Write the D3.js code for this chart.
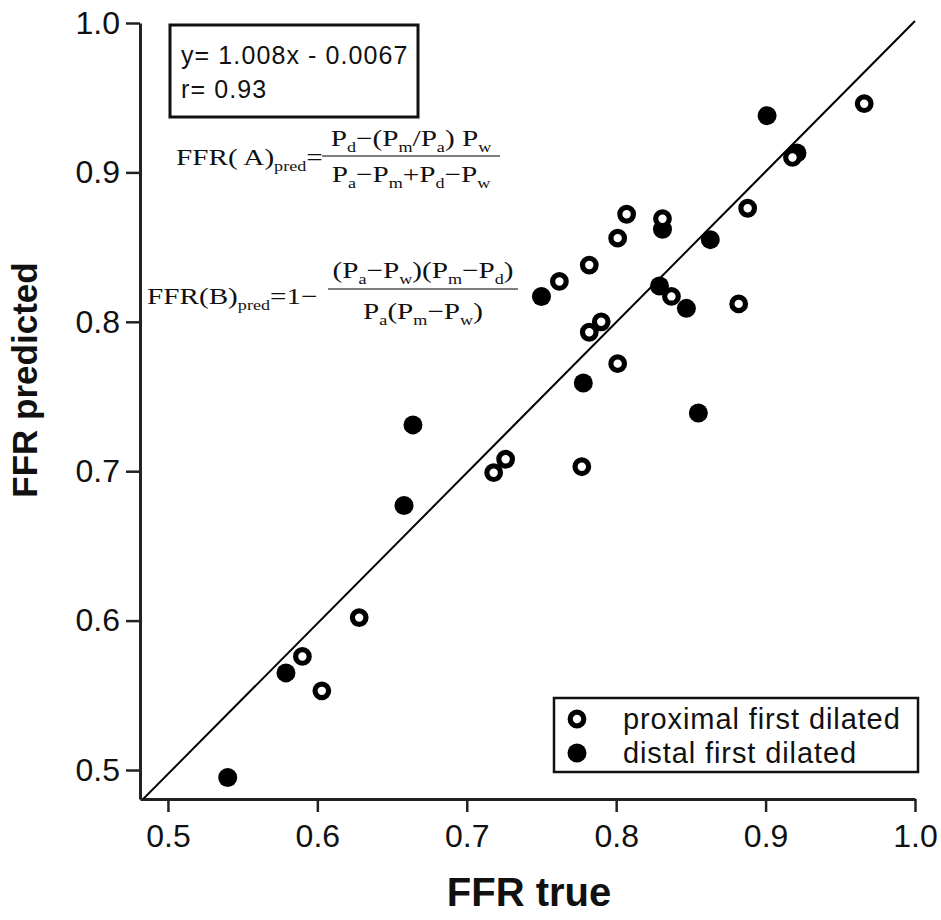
<!DOCTYPE html>
<html>
<head>
<meta charset="utf-8">
<script src="https://cdn.jsdelivr.net/npm/d3@7"></script>
<style>
  body { margin: 0; background: #fff; }
  text { fill: #111; }
</style>
</head>
<body>
<svg id="chart" width="941" height="920"></svg>
<script>
// Measured FFR against FFR predicted from pressure readings
const proximalTrue = [0.966, 0.918, 0.888, 0.807, 0.831, 0.801, 0.782, 0.762, 0.837, 0.882,
                      0.790, 0.782, 0.801, 0.726, 0.718, 0.777, 0.628, 0.590, 0.603];
const proximalPred = [0.946, 0.910, 0.876, 0.872, 0.869, 0.856, 0.838, 0.827, 0.817, 0.812,
                      0.800, 0.793, 0.772, 0.708, 0.699, 0.703, 0.602, 0.576, 0.553];
const distalTrue = [0.921, 0.901, 0.863, 0.831, 0.750, 0.829, 0.847, 0.778, 0.855, 0.664,
                    0.658, 0.579, 0.540];
const distalPred = [0.913, 0.938, 0.855, 0.862, 0.817, 0.824, 0.809, 0.759, 0.739, 0.731,
                    0.677, 0.565, 0.495];
const seriesNames = ["proximal first dilated", "distal first dilated"];
const xTicks = [0.5, 0.6, 0.7, 0.8, 0.9, 1.0];
const yTicks = [0.5, 0.6, 0.7, 0.8, 0.9, 1.0];
const xExtent = [0.4813, 1.0];
const yExtent = [0.4806, 1.0];
const fitSlope = 1.008;
const fitIntercept = -0.0067;
const fitR = 0.93;

const svg = d3.select("#chart");
const sans = "'Liberation Sans', Arial, Helvetica, sans-serif";
const serif = "'Liberation Serif', 'Times New Roman', Times, serif";

const x = d3.scaleLinear().domain(xExtent).range([140, 915]);
const y = d3.scaleLinear().domain(yExtent).range([799, 23]);

// clip region for the fitted line
svg.append("defs").append("clipPath").attr("id", "plotClip")
  .append("rect")
  .attr("x", x(xExtent[0])).attr("y", y(yExtent[1]) - 3)
  .attr("width", x(xExtent[1]) - x(xExtent[0]) + 3)
  .attr("height", y(yExtent[0]) - y(yExtent[1]) + 3);

// axes
const fmt = d3.format(".1f");
const yAxis = svg.append("g")
  .attr("transform", `translate(${x(xExtent[0])},0)`)
  .call(d3.axisLeft(y).tickValues(yTicks).tickFormat(fmt)
        .tickSize(14).tickPadding(6).tickSizeOuter(0));
const xAxis = svg.append("g")
  .attr("transform", `translate(0,${y(yExtent[0])})`)
  .call(d3.axisBottom(x).tickValues(xTicks).tickFormat(fmt)
        .tickSize(13).tickPadding(12).tickSizeOuter(0));

[xAxis, yAxis].forEach(g => {
  g.select(".domain").attr("stroke", "#222").attr("stroke-width", 3);
  g.selectAll(".tick line").attr("stroke", "#222").attr("stroke-width", 2.5);
  g.selectAll(".tick text")
    .attr("font-family", sans).attr("font-size", 32).attr("fill", "#111");
});

// axis titles
svg.append("text")
  .attr("x", 529).attr("y", 906)
  .attr("text-anchor", "middle")
  .attr("font-family", sans).attr("font-weight", "bold").attr("font-size", 40)
  .text("FFR true");
svg.append("text")
  .attr("transform", "translate(37,380) rotate(-90)")
  .attr("text-anchor", "middle")
  .attr("font-family", sans).attr("font-weight", "bold").attr("font-size", 35)
  .text("FFR predicted");

// fitted regression line
const fitY = v => fitSlope * v + fitIntercept;
svg.append("line")
  .attr("clip-path", "url(#plotClip)")
  .attr("x1", x(xExtent[0])).attr("y1", y(fitY(xExtent[0])))
  .attr("x2", x(xExtent[1])).attr("y2", y(fitY(xExtent[1])))
  .attr("stroke", "#000").attr("stroke-width", 2);

// markers: filled first, open rings on top
const distal = distalTrue.map((v, i) => ({ t: v, p: distalPred[i] }));
const proximal = proximalTrue.map((v, i) => ({ t: v, p: proximalPred[i] }));

function filledMarker(sel) {
  sel.attr("r", 9.5).attr("fill", "#000");
}
function openMarker(sel) {
  sel.attr("r", 6.8).attr("fill", "#fff").attr("stroke", "#000").attr("stroke-width", 5.2);
}

svg.append("g").selectAll("circle").data(distal).join("circle")
  .attr("cx", d => x(d.t)).attr("cy", d => y(d.p)).call(filledMarker);
svg.append("g").selectAll("circle").data(proximal).join("circle")
  .attr("cx", d => x(d.t)).attr("cy", d => y(d.p)).call(openMarker);

// regression summary box
const box = svg.append("g");
box.append("rect")
  .attr("x", 170).attr("y", 25).attr("width", 248).attr("height", 92)
  .attr("fill", "#fff").attr("stroke", "#111").attr("stroke-width", 3);
box.append("text")
  .attr("x", 181).attr("y", 64)
  .attr("font-family", sans).attr("font-size", 25).attr("letter-spacing", 1.1)
  .text(`y= ${fitSlope.toFixed(3)}x - ${Math.abs(fitIntercept).toFixed(4)}`);
box.append("text")
  .attr("x", 181).attr("y", 98)
  .attr("font-family", sans).attr("font-size", 25).attr("letter-spacing", 1.1)
  .text(`r= ${fitR.toFixed(2)}`);

// math text with subscripts, stretched horizontally by sx: parts = [[text, isSub], ...]
const sx = 1.27;
function mathText(parent, px, py, parts, size, anchor) {
  const t = parent.append("text")
    .attr("transform", `translate(${px},${py}) scale(${sx},1)`)
    .attr("font-family", serif).attr("font-size", size)
    .attr("text-anchor", anchor || "start")
    .attr("fill", "#222");
  const shift = size * 0.28;
  let lowered = false;
  parts.forEach(([s, sub]) => {
    const ts = t.append("tspan").text(s);
    if (sub && !lowered) { ts.attr("dy", shift); lowered = true; }
    else if (!sub && lowered) { ts.attr("dy", -shift); lowered = false; }
    if (sub) ts.attr("font-size", size * 0.62);
  });
  return t;
}

function fraction(parent, x1, x2, barY, numParts, denParts, size, numDy, denDy) {
  const cx = (x1 + x2) / 2;
  mathText(parent, cx, barY - numDy, numParts, size, "middle");
  mathText(parent, cx, barY + denDy, denParts, size, "middle");
  parent.append("line")
    .attr("x1", x1).attr("x2", x2).attr("y1", barY).attr("y2", barY)
    .attr("stroke", "#555").attr("stroke-width", 1.3);
}

const fs = 23;
const eqA = svg.append("g");
mathText(eqA, 176, 165, [["FFR( A)"], ["pred", 1], ["="]], fs);
fraction(eqA, 322, 500, 156,
  [["P"], ["d", 1], ["−(P"], ["m", 1], ["/P"], ["a", 1], [") P"], ["w", 1]],
  [["P"], ["a", 1], ["−P"], ["m", 1], ["+P"], ["d", 1], ["−P"], ["w", 1]], fs, 10, 26);

const eqB = svg.append("g");
mathText(eqB, 147, 304, [["FFR(B)"], ["pred", 1], ["=1−"]], fs);
fraction(eqB, 328, 518, 289,
  [["(P"], ["a", 1], ["−P"], ["w", 1], [")(P"], ["m", 1], ["−P"], ["d", 1], [")"]],
  [["P"], ["a", 1], ["(P"], ["m", 1], ["−P"], ["w", 1], [")"]], fs, 11, 30);

// legend
const legend = svg.append("g");
legend.append("rect")
  .attr("x", 554).attr("y", 698).attr("width", 364).attr("height", 74)
  .attr("fill", "#fff").attr("stroke", "#111").attr("stroke-width", 2.5);
const legendRows = [
  { name: seriesNames[0], style: openMarker, cy: 719 },
  { name: seriesNames[1], style: filledMarker, cy: 753 }
];
legendRows.forEach(r => {
  legend.append("circle").attr("cx", 577).attr("cy", r.cy).call(r.style);
  legend.append("text")
    .attr("x", 623).attr("y", r.cy + 10)
    .attr("font-family", sans).attr("font-size", 29).attr("letter-spacing", 0.9)
    .text(r.name);
});
</script>
</body>
</html>
